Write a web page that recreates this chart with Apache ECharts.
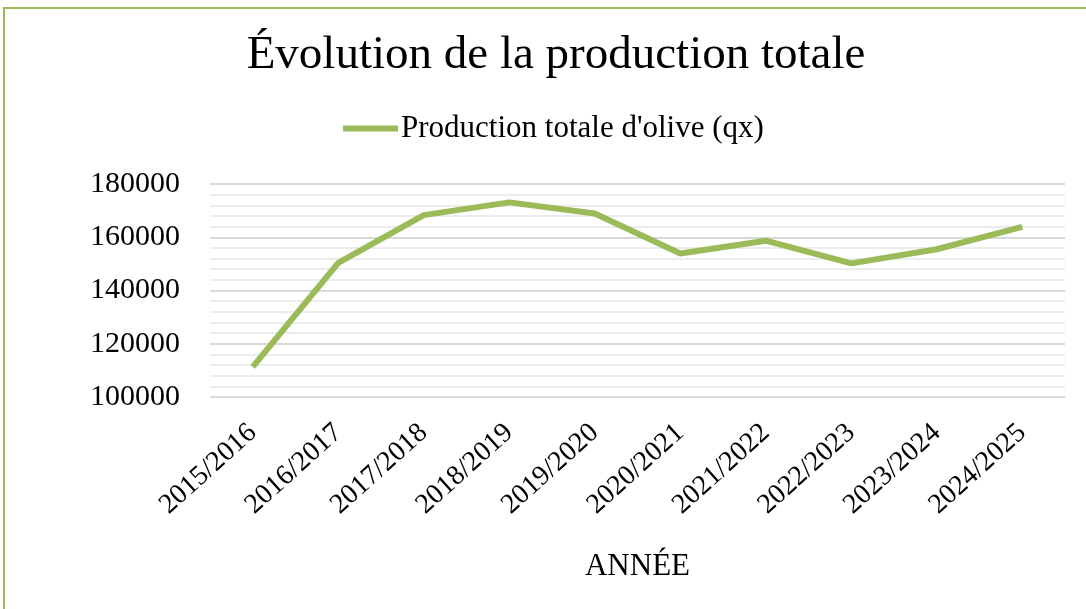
<!DOCTYPE html>
<html>
<head>
<meta charset="utf-8">
<script src="https://cdn.jsdelivr.net/npm/echarts@6/dist/echarts.min.js"></script>
<style>
  html, body { margin: 0; padding: 0; background: #fff; }
  #lineChart { width: 1086px; height: 609px; }
</style>
</head>
<body>
<div id="lineChart"></div>
<script>
var years = ['2015/2016', '2016/2017', '2017/2018', '2018/2019', '2019/2020',
             '2020/2021', '2021/2022', '2022/2023', '2023/2024', '2024/2025'];
var production = [111300, 150400, 168300, 173100, 168900, 153900, 158700, 150200, 155500, 163900];
var yTicks = [100000, 120000, 140000, 160000, 180000];

var serif = '"Liberation Serif", "Times New Roman", serif';
var green = '#9bbb59';

var dom = document.getElementById('lineChart');
var myChart = echarts.init(dom);

var option = {
    animation: false,
    backgroundColor: '#fff',
    graphic: [{
        type: 'rect',
        shape: {x: 4, y: 8, width: 1200, height: 700},
        style: {fill: 'none', stroke: green, lineWidth: 2},
        silent: true
    }],
    title: {
        text: 'Évolution de la production totale',
        left: 551,
        textAlign: 'center',
        top: 27,
        textStyle: {fontFamily: serif, fontSize: 47, fontWeight: 'normal', color: '#000'}
    },
    legend: {
        data: ['Production totale d\'olive (qx)'],
        left: 343,
        top: 113,
        padding: 0,
        itemWidth: 55,
        itemHeight: 6,
        itemGap: 6,
        icon: 'rect',
        textStyle: {fontFamily: serif, fontSize: 31, color: '#000', padding: [0, 0, 0, -2]}
    },
    grid: {left: 210, right: 21, top: 184, bottom: 212},
    xAxis: {
        type: 'category',
        data: years,
        boundaryGap: true,
        name: 'ANNÉE',
        nameLocation: 'middle',
        nameGap: 154,
        nameTextStyle: {fontFamily: serif, fontSize: 31, color: '#000'},
        axisLine: {show: false},
        axisTick: {show: false},
        axisLabel: {
            rotate: 42,
            margin: 32,
            interval: 0,
            fontFamily: serif,
            fontSize: 28,
            color: '#000'
        }
    },
    yAxis: {
        type: 'value',
        min: yTicks[0],
        max: yTicks[yTicks.length - 1],
        interval: 20000,
        axisLine: {show: false},
        axisTick: {show: false},
        axisLabel: {
            margin: 30,
            fontFamily: serif,
            fontSize: 30,
            color: '#000',
            formatter: function (v) { return String(v); }
        },
        splitLine: {lineStyle: {color: '#d9d9d9', width: 2}},
        minorTick: {show: false, splitNumber: 5},
        minorSplitLine: {show: true, lineStyle: {color: '#ececec', width: 2}}
    },
    series: [{
        name: 'Production totale d\'olive (qx)',
        type: 'line',
        data: production,
        symbol: 'none',
        lineStyle: {color: green, width: 6},
        itemStyle: {color: green}
    }]
};

myChart.setOption(option, true);
</script>
</body>
</html>
